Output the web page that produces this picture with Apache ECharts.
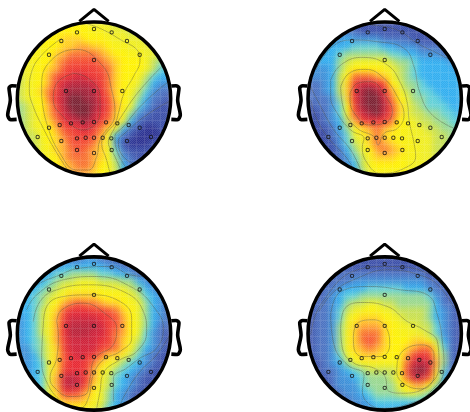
<!DOCTYPE html>
<html><head><meta charset="utf-8"><style>html,body{margin:0;background:#fff}#c{width:470px;height:412px;overflow:hidden}#c canvas:first-child{filter:blur(3px)}</style>
<script src="https://cdn.jsdelivr.net/npm/echarts@6/dist/echarts.min.js"></script></head><body><div id="c"></div><script>
const headA=[
[8,8,8,8,9,9,10,10,10,9,8,8,8,7,7,7,7,7,7,7,7],
[8,8,8,8,9,10,10,10,10,10,9,9,8,8,8,7,7,7,7,7,7],
[8,8,8,9,10,10,11,11,11,10,10,10,9,8,8,8,8,7,7,7,7],
[8,8,8,9,10,10,11,11,12,12,11,11,10,9,9,8,8,8,7,7,7],
[8,8,9,9,10,11,12,13,13,13,13,12,11,10,10,9,9,8,8,7,7],
[8,8,9,10,10,12,13,14,14,14,14,13,12,11,10,10,10,9,7,6,6],
[8,8,9,10,11,12,14,15,15,15,15,14,13,11,10,10,10,9,7,5,5],
[7,8,9,10,12,14,15,16,17,16,15,15,13,11,10,10,9,7,5,4,4],
[7,8,9,10,12,15,17,18,18,18,17,15,13,11,10,9,8,6,4,3,3],
[7,8,9,11,13,15,18,19,19,19,18,16,13,11,10,9,7,5,3,2,2],
[7,8,9,10,13,16,18,20,20,19,19,16,14,11,10,8,6,4,2,2,1],
[6,7,9,10,12,15,18,20,20,20,19,17,14,12,10,8,5,3,2,1,1],
[6,7,8,10,12,14,17,19,20,20,18,16,14,11,9,6,3,2,1,1,1],
[6,7,8,9,11,13,16,17,18,19,17,15,13,11,8,4,2,1,1,1,1],
[6,7,8,9,10,12,14,15,16,17,15,13,11,9,4,2,1,0,0,1,1],
[6,7,7,9,10,11,13,14,15,15,14,12,9,4,2,1,0,0,0,0,1],
[7,7,7,8,10,11,12,14,14,14,13,11,8,3,1,0,0,0,1,1,1],
[7,7,7,8,9,11,12,13,14,13,12,11,9,5,2,1,1,1,1,1,1],
[7,7,7,8,9,10,12,13,13,13,12,11,9,6,3,2,1,1,1,1,1],
[7,7,7,8,9,10,11,12,13,13,12,10,9,7,4,2,2,1,1,1,1],
[8,8,8,8,9,10,11,12,12,12,11,10,9,7,4,3,2,2,1,1,1]];
const headB=[
[2,2,2,2,2,1,1,1,1,1,1,1,1,1,1,1,1,1,1,1,1],
[2,2,2,2,3,2,2,1,1,1,1,1,1,1,1,1,1,1,1,1,1],
[3,3,3,3,3,4,3,3,3,3,2,2,2,2,1,1,1,1,1,1,1],
[4,4,4,4,4,4,5,5,5,5,4,4,3,3,3,2,2,2,2,1,1],
[4,4,4,4,5,6,6,6,6,6,6,5,5,4,4,3,3,3,2,2,2],
[4,4,4,4,6,7,8,8,8,8,8,7,6,6,5,4,4,4,4,3,3],
[3,3,3,4,6,8,10,10,10,10,9,8,7,6,5,4,4,4,4,4,3],
[3,3,3,4,7,10,13,13,13,12,11,9,7,6,5,4,4,4,4,4,4],
[2,2,3,4,7,11,15,17,17,16,14,10,8,6,6,5,4,4,4,4,4],
[2,2,3,4,7,11,16,19,20,19,16,12,9,7,6,5,5,4,4,4,4],
[2,2,2,3,6,11,16,19,20,20,17,13,10,8,6,6,5,5,4,4,4],
[1,2,2,3,5,10,15,19,20,20,18,14,11,8,7,6,5,5,5,4,4],
[1,1,2,3,5,9,14,17,19,20,17,14,11,8,7,7,6,6,5,5,4],
[1,1,2,3,4,7,12,15,16,16,15,13,10,9,8,7,7,6,6,5,5],
[0,1,1,2,4,6,9,11,12,13,12,11,10,9,8,8,7,7,6,6,5],
[0,0,1,2,3,5,8,9,11,13,11,10,9,9,8,8,8,7,7,6,6],
[0,0,1,1,3,5,7,8,11,13,12,11,10,9,9,8,8,7,7,6,6],
[0,1,1,1,2,4,6,8,10,12,13,12,11,9,9,8,8,7,7,6,6],
[1,1,1,1,2,3,5,7,9,11,11,11,10,9,9,8,8,7,7,6,6],
[1,1,1,1,2,3,4,7,9,10,10,10,10,9,8,8,8,7,7,6,6],
[1,1,1,1,2,3,4,6,8,9,9,9,9,9,8,8,8,7,7,6,6]];
const headC=[
[1,1,1,1,1,2,2,2,2,3,3,2,2,1,1,1,1,1,1,1,1],
[2,2,2,2,3,3,4,4,4,4,4,4,3,3,2,2,1,1,1,1,1],
[3,3,3,3,4,5,5,6,6,6,6,5,5,4,4,3,2,2,1,1,1],
[4,4,4,4,5,6,7,7,8,8,8,7,7,7,6,6,4,3,2,2,1],
[4,4,4,5,6,7,8,9,9,9,9,9,8,8,8,7,6,4,3,2,2],
[4,4,5,6,7,8,9,11,11,11,11,10,10,10,9,8,7,5,4,3,2],
[4,4,5,6,8,10,12,13,14,13,13,12,11,11,10,9,8,6,4,3,2],
[4,4,5,7,9,11,14,16,16,16,15,15,14,13,11,10,8,6,4,3,2],
[3,4,5,7,9,12,15,17,17,17,17,16,15,14,12,10,8,6,4,3,2],
[3,4,5,7,9,12,16,18,18,18,18,17,15,14,12,10,8,6,4,2,2],
[3,4,5,7,9,12,16,18,18,18,17,17,15,13,12,10,8,5,3,2,1],
[3,4,5,6,9,12,15,17,17,17,17,16,15,13,11,9,7,5,3,2,1],
[3,3,5,6,8,11,15,17,17,17,17,15,14,13,11,9,6,4,3,2,1],
[3,3,4,6,8,11,14,16,17,16,15,13,11,11,9,7,5,3,2,1,1],
[3,3,4,5,8,11,14,16,16,15,13,11,9,8,6,5,4,3,2,1,1],
[3,3,4,5,8,11,15,16,16,15,12,9,8,6,5,4,3,2,1,1,1],
[3,3,4,5,8,12,17,18,17,15,12,9,7,5,4,3,2,1,1,1,1],
[3,3,4,5,8,12,17,18,17,14,11,8,7,5,4,3,2,1,1,1,1],
[3,3,4,5,8,11,15,15,14,12,10,8,6,4,3,2,1,1,1,1,1],
[3,3,4,5,8,10,12,12,12,11,9,8,6,4,3,2,1,1,1,1,1],
[3,3,4,5,8,9,10,10,10,9,8,7,5,4,3,2,1,1,1,1,1]];
const headD=[
[1,1,1,1,1,1,1,1,1,1,1,1,1,1,1,1,1,1,1,1,1],
[1,1,1,1,1,1,1,1,1,1,1,1,1,1,1,1,1,1,1,1,1],
[1,1,1,1,2,2,2,2,2,2,2,2,2,2,2,2,1,1,1,1,1],
[1,1,1,2,2,2,3,3,3,3,3,3,3,3,3,3,2,2,1,1,1],
[1,1,2,2,3,4,4,4,5,5,5,5,5,4,4,4,3,2,2,1,1],
[1,1,2,3,4,5,5,6,6,6,6,6,6,6,6,6,5,3,2,1,1],
[1,2,2,3,4,6,7,7,8,8,7,7,6,6,6,6,6,4,2,2,1],
[1,2,2,3,5,7,8,9,10,9,9,8,7,7,7,7,6,4,3,2,1],
[1,2,2,3,5,8,10,11,11,11,10,9,8,7,7,7,6,4,3,2,1],
[1,2,2,3,6,8,11,12,12,12,11,10,9,8,8,7,7,5,3,2,1],
[1,2,2,3,6,9,11,13,13,13,11,10,9,9,8,8,7,5,3,2,1],
[1,2,2,3,6,9,11,13,14,13,11,10,10,10,11,11,10,7,4,2,1],
[1,2,2,3,6,9,11,12,13,12,11,10,10,11,12,13,13,9,5,2,1],
[1,2,2,3,5,8,10,11,11,11,10,10,10,12,15,16,15,11,6,2,1],
[1,1,2,3,4,6,8,9,9,9,9,9,9,13,17,18,17,12,6,2,1],
[1,1,2,2,3,4,5,6,7,7,7,7,9,14,19,20,17,11,5,2,1],
[1,1,1,2,3,3,4,5,6,6,6,7,9,13,17,17,14,9,4,2,1],
[1,1,1,2,3,3,3,5,6,6,6,6,8,10,12,12,10,6,3,2,1],
[1,1,1,1,2,3,3,4,5,6,6,6,7,8,8,7,6,4,2,2,1],
[1,1,1,1,2,2,3,3,4,5,5,5,5,5,5,5,4,3,2,1,1],
[1,1,1,1,1,2,2,3,3,4,4,4,4,4,3,3,3,2,1,1,1]];
const contoursA=[
[[250,68],[300,85],[360,118],[415,155],[420,180],[400,230],[372,280],[355,340],[345,370],[318,400],[305,430],[320,480],[330,520]],
[[185,115],[130,160],[95,215],[88,270],[100,320],[130,385],[165,450],[210,520]],
[[125,290],[125,265],[145,190],[230,148],[310,200],[335,270],[345,340],[300,420],[290,470],[265,510],[230,510],[180,460],[140,370],[125,290]],
[[220,220],[170,250],[160,300],[190,350],[250,390],[300,340],[300,290],[265,235],[220,220]],
[[490,195],[420,270],[370,340],[335,400],[325,425],[345,470],[365,515]],
[[505,245],[430,310],[370,380],[345,410],[350,450],[380,505]],
[[515,300],[440,345],[380,395],[355,425],[370,470],[410,495]]];
const contoursB=[
[[240,75],[320,90],[380,130],[450,165],[490,190],[510,230]],
[[75,210],[125,140],[185,120],[260,125],[340,145],[370,200],[385,270],[420,340],[490,385]],
[[120,240],[150,195],[215,172],[290,195],[330,250],[350,310],[355,360],[370,430],[375,470],[340,505],[270,520],[230,490],[215,440],[220,415],[180,390],[140,340],[120,290],[120,240]],
[[150,260],[175,220],[225,208],[280,235],[320,290],[340,345],[320,385],[280,400],[262,435],[250,410],[200,385],[160,330],[150,260]],
[[178,280],[200,250],[240,245],[285,290],[305,335],[280,370],[235,375],[195,345],[178,300],[178,280]],
[[60,300],[75,350],[110,410],[165,470],[190,510]],
[[55,250],[85,310],[130,390],[180,450],[210,510]]];
const contoursC=[
[[60,225],[100,160],[180,120],[240,100],[330,95],[390,120],[440,125]],
[[80,225],[110,180],[190,135],[290,125],[400,160],[460,215],[490,280],[470,340],[420,370],[380,400],[340,430],[340,500]],
[[100,260],[120,200],[170,165],[270,150],[380,175],[430,230],[440,290],[410,350],[360,375],[310,415],[300,470],[290,520]],
[[130,270],[140,215],[190,185],[270,180],[360,200],[395,250],[395,310],[360,350],[310,375],[280,420],[265,490],[240,520],[190,505],[135,430],[125,370],[130,270]],
[[170,260],[185,225],[250,205],[320,240],[350,280],[340,330],[285,370],[270,430],[255,480],[210,485],[165,460],[150,430],[170,370],[175,300],[170,260]],
[[510,300],[470,360],[420,410],[380,470],[355,520]]];
const contoursD=[
[[85,230],[130,170],[200,130],[290,105],[400,125],[450,160],[490,220]],
[[120,240],[150,170],[240,155],[330,165],[410,180],[440,240],[455,320],[460,400],[420,470],[360,505],[270,520],[215,470],[220,420],[170,390],[130,330],[120,240]],
[[150,280],[160,225],[210,203],[290,215],[350,260],[400,285],[440,320],[445,390],[415,450],[340,475],[290,465],[285,430],[250,400],[190,385],[155,340],[150,280]],
[[188,310],[200,265],[250,255],[290,285],[297,330],[270,365],[215,365],[190,340],[188,310]],
[[320,380],[340,345],[395,330],[430,360],[430,420],[395,462],[345,450],[318,410],[320,380]],
[[60,300],[90,210],[200,105],[290,95],[420,120],[490,190]]];
const sensors=[[231,97],[282,87],[335,97],[184,123],[381,123],[147,164],[419,164],[282,180],[198,273],[282,273],[367,273],[179,375],[213,370],[248,367],[282,366],[318,367],[352,370],[386,375],[147,383],[419,383],[113,411],[453,411],[231,415],[257,413],[282,413],[308,413],[334,415],[184,423],[381,423],[231,450],[335,450],[282,459]];
const nose=[[238,64],[282,28],[326,64]];
const earL=[[50,258],[36,257],[27,264],[31,300],[23,345],[32,359],[50,358]];
const earR=[[514,258],[528,257],[537,264],[533,300],[541,345],[532,359],[514,358]];
const palette=['#2a2f8f','#3a4ea8','#4a70c0','#30aef0','#60d0d8','#98d890','#c8e050','#f0ee20','#fff200','#ffd020','#ffa830','#f87030','#f44a30','#e82630','#d02038','#a02038','#781f30'];
const levelStops=[0,1,2,4,5,6,7,8,10,11,12,13,14,16,17,19,20];
const centres=[[94,98.7],[384.7,98.7],[94,333.5],[384.7,333.5]];
const maps=[headA,headB,headC,headD],contours=[contoursA,contoursB,contoursC,contoursD];
const idx=Array.from({length:21},(_,i)=>i);
const tile=document.createElement('canvas');tile.width=tile.height=8;
(function(){const t=tile.getContext('2d');
 for(let y=0;y<8;y++)for(let x=0;x<8;x++){
  let a=(x===0||y===0)?0.15:((x+y)%2===0?0.12:0.0);
  if(a){t.fillStyle='rgba(255,255,255,'+a+')';t.fillRect(x,y,1,1);}
 }})();
const grid=[],xAxis=[],yAxis=[],series=[];
centres.forEach(([cx,cy],h)=>{
  grid.push({left:cx-78,top:cy-78,width:156,height:156,outerBoundsMode:'none'});
  xAxis.push({type:'category',data:idx,show:false,gridIndex:h});
  yAxis.push({type:'category',data:idx,show:false,inverse:true,gridIndex:h});
  const cells=[];
  maps[h].forEach((row,j)=>row.forEach((v,i)=>{if(Math.hypot(i-10,j-10)<=11.0)cells.push([i,j,v]);}));
  series.push({type:'heatmap',xAxisIndex:h,yAxisIndex:h,data:cells,zlevel:0,z:1,progressive:0,silent:true,itemStyle:{borderWidth:0}});
});
centres.forEach(([cx,cy],h)=>{
  const g=4+h;
  grid.push({left:cx-100,top:cy-100,width:200,height:200,outerBoundsMode:'none'});
  xAxis.push({type:'value',min:-18,max:582,show:false,gridIndex:g});
  yAxis.push({type:'value',min:-4,max:596,inverse:true,show:false,gridIndex:g});
  const base={xAxisIndex:g,yAxisIndex:g,silent:true,animation:false,zlevel:1};
  contours[h].forEach(d=>series.push({...base,type:'line',data:d,smooth:0.45,symbol:'none',z:2,lineStyle:{color:'rgba(70,70,50,0.38)',width:1}}));
  series.push({...base,type:'custom',data:[[282,296]],z:3,clip:false,renderItem:(p,api)=>{
    const c=api.coord([282,296]),r=api.size([230,0])[0];
    return {type:'group',children:[
      {type:'circle',shape:{cx:c[0],cy:c[1],r:r},style:{fill:{image:tile,repeat:'repeat'}}},
      {type:'ring',shape:{cx:c[0],cy:c[1],r:r+22,r0:r},style:{fill:'#fff'}},
      {type:'circle',shape:{cx:c[0],cy:c[1],r:r},style:{fill:'none',stroke:'#000',lineWidth:3.6}}]};
  }});
  [nose,earL,earR].forEach(d=>series.push({...base,type:'line',data:d,smooth:d===nose?0:0.3,symbol:'none',z:4,clip:false,lineStyle:{color:'#000',width:d===nose?3:3.6}}));
  series.push({...base,type:'scatter',data:sensors,z:5,symbol:'circle',symbolSize:3.4,itemStyle:{color:'rgba(0,0,0,0)',borderColor:'#111',borderWidth:1}});
});
const chart=echarts.init(document.getElementById('c'),null,{renderer:'canvas'});
chart.setOption({animation:false,grid,xAxis,yAxis,series,
 visualMap:{type:'piecewise',show:false,seriesIndex:[0,1,2,3],dimension:2,
  pieces:idx.map(v=>{let k=0;while(k<levelStops.length-2&&levelStops[k+1]<=v)k++;
    const t=(v-levelStops[k])/(levelStops[k+1]-levelStops[k]);
    const mix=(a,b)=>{const pa=parseInt(a.slice(1),16),pb=parseInt(b.slice(1),16);
      return '#'+[16,8,0].map(s=>Math.round(((pa>>s)&255)*(1-t)+((pb>>s)&255)*t).toString(16).padStart(2,'0')).join('');};
    return {value:v,color:mix(palette[k],palette[k+1])};})}
});
</script></body></html>
